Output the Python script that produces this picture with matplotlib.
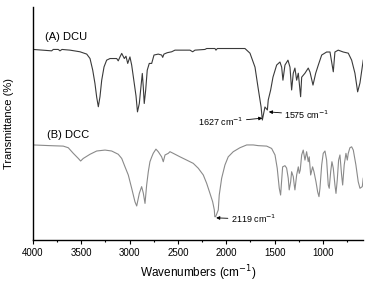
import matplotlib
matplotlib.use("Agg")
import matplotlib.pyplot as plt
from matplotlib.ticker import MultipleLocator

plt.rcParams['font.family'] = ['Liberation Sans', 'DejaVu Sans']

# (A) DCU spectrum: wavenumber (cm-1) and transmittance (arb. %)
dcu_wn = [3997, 3807, 3790, 3738, 3721, 3700, 3617, 3514, 3444, 3410, 3382, 3359, 3341,
          3324, 3307, 3289, 3265, 3238, 3203, 3134, 3118, 3100, 3082, 3055, 3038, 3020,
          2997, 2979, 2962, 2934, 2919, 2900, 2883, 2869, 2859, 2849, 2834, 2818, 2797,
          2772, 2748, 2704, 2669, 2658, 2645, 2611, 2565, 2531, 2376, 2348, 2324, 2221,
          2203, 2117, 2107, 2093, 1807, 1755, 1703, 1672, 1640, 1627, 1600, 1575, 1566,
          1541, 1517, 1479, 1445, 1427, 1414, 1393, 1362, 1341, 1324, 1307, 1290, 1272,
          1255, 1231, 1220, 1186, 1152, 1134, 1103, 1075, 1048, 1013, 962, 927, 893, 876,
          842, 790, 738, 703, 669, 641, 617, 583]
dcu_t = [81.8, 81.2, 81.8, 81.8, 81.2, 81.8, 81.5, 80.8, 79.8, 77.9, 72.9, 67.2, 61.3,
         57.2, 61.5, 68.6, 74.3, 77.2, 77.9, 77.9, 76.9, 78.6, 80.1, 77.9, 78.9, 75.8,
         78.6, 75.1, 70.1, 61.8, 55.0, 58.6, 65.8, 71.5, 65.8, 58.6, 64.4, 72.9, 75.8,
         75.8, 79.4, 79.8, 79.4, 78.4, 79.8, 80.4, 80.8, 81.5, 81.5, 80.8, 81.5, 81.8,
         82.2, 82.2, 81.5, 82.2, 82.2, 80.2, 74.2, 65.6, 57.1, 51.5, 57.1, 55.8, 60.1,
         64.4, 69.9, 75.1, 76.4, 74.2, 68.6, 75.1, 77.2, 74.2, 64.4, 71.6, 73.8, 68.6,
         71.6, 61.5, 69.9, 71.6, 73.8, 72.1, 66.5, 71.6, 75.1, 79.4, 80.7, 80.7, 72.2, 80.7,
         81.5, 80.7, 80.2, 77.2, 71.6, 63.6, 67.4, 77.2]

# (B) DCC spectrum
dcc_wn = [3997, 3824, 3687, 3635, 3583, 3531, 3507, 3480, 3410, 3341, 3255, 3186, 3118,
          3082, 3048, 3014, 2979, 2945, 2927, 2900, 2876, 2859, 2841, 2824, 2807, 2790,
          2772, 2756, 2728, 2704, 2669, 2652, 2634, 2600, 2583, 2549, 2479, 2410, 2342,
          2290, 2238, 2203, 2169, 2141, 2124, 2119, 2110, 2083, 2073, 2048, 2014, 1980,
          1928, 1859, 1789, 1721, 1669, 1582, 1531, 1496, 1473, 1452, 1438, 1427, 1417,
          1393, 1376, 1359, 1349, 1334, 1324, 1307, 1297, 1290, 1272, 1255, 1245, 1235,
          1220, 1204, 1186, 1169, 1152, 1142, 1127, 1107, 1093, 1072, 1055, 1041, 1031,
          1013, 997, 979, 962, 945, 935, 920, 907, 893, 876, 865, 852, 838, 824, 807, 796,
          780, 762, 748, 738, 721, 703, 686, 659, 635, 617, 593, 583]
dcc_t = [40.8, 40.5, 40.3, 39.6, 37.2, 35.0, 33.9, 35.0, 36.8, 38.2, 38.6, 38.2, 36.8,
         35.0, 31.4, 27.9, 22.2, 16.4, 14.6, 20.0, 22.9, 20.2, 15.7, 23.6, 29.3, 33.6,
         35.6, 37.2, 39.0, 37.9, 35.7, 33.6, 36.5, 37.2, 37.9, 37.2, 35.7, 34.3, 32.9,
         30.8, 27.9, 24.3, 20.0, 16.4, 12.9, 10.0, 10.0, 12.9, 19.3, 26.5, 32.2, 35.7,
         37.9, 39.6, 40.8, 40.8, 40.5, 40.3, 39.3, 36.5, 30.8, 22.2, 19.3, 25.7, 31.4,
         31.9, 30.9, 26.5, 21.5, 25.0, 29.3, 27.2, 23.6, 21.5, 27.9, 31.4, 28.6, 30.0,
         36.5, 38.6, 34.3, 37.9, 33.6, 35.7, 27.9, 31.4, 29.3, 25.0, 20.7, 18.6, 22.2,
         32.2, 37.2, 38.2, 34.3, 23.6, 22.2, 29.3, 33.6, 30.8, 23.6, 20.0, 25.7, 34.3,
         36.5, 27.9, 23.6, 32.2, 37.2, 34.3, 37.2, 39.6, 40.0, 38.6, 32.2, 25.0, 22.2,
         22.9, 26.5]

xticks = [4000, 3500, 3000, 2500, 2000, 1500, 1000]

fig = plt.figure(figsize=(3.65, 2.82), dpi=100)
ax = fig.add_axes([0.0904, 0.149, 0.904, 0.826])

ax.plot(dcu_wn, dcu_t, color='#3a3a3a', lw=0.8)
ax.plot(dcc_wn, dcc_t, color='#8a8a8a', lw=0.8)

ax.set_xlim(4000, 586)
ax.set_ylim(0, 100)
ax.set_xticks(xticks)
ax.set_xticklabels([str(t) for t in xticks])
ax.xaxis.set_minor_locator(MultipleLocator(250))
ax.tick_params(axis='x', which='major', length=3, width=0.8, labelsize=7, pad=3)
ax.tick_params(axis='x', which='minor', length=1.5, width=0.8)
ax.set_yticks([])
for s in ['top', 'right']:
    ax.spines[s].set_visible(False)
for s in ['left', 'bottom']:
    ax.spines[s].set_linewidth(1.0)

ax.set_xlabel('Wavenumbers (cm$^{-1}$)', fontsize=8.5, labelpad=4)
ax.set_ylabel('Transmittance (%)', fontsize=8, labelpad=14)

ax.text(3880, 87, '(A) DCU', fontsize=8, va='center', ha='left')
ax.text(3860, 45, '(B) DCC', fontsize=8, va='center', ha='left')

arrow = dict(arrowstyle='-|>', color='black', lw=0.6, mutation_scale=5, shrinkA=0, shrinkB=0)
ax.annotate('1627 cm$^{-1}$', xy=(1627, 52.3), xytext=(1820, 50.6),
            fontsize=6.5, ha='right', va='center', arrowprops=arrow)
ax.annotate('1575 cm$^{-1}$', xy=(1560, 55.0), xytext=(1400, 53.7),
            fontsize=6.5, ha='left', va='center', arrowprops=arrow)
ax.annotate('2119 cm$^{-1}$', xy=(2105, 9.5), xytext=(1955, 8.9),
            fontsize=6.5, ha='left', va='center', arrowprops=arrow)

fig.savefig('out.png', dpi=100)
